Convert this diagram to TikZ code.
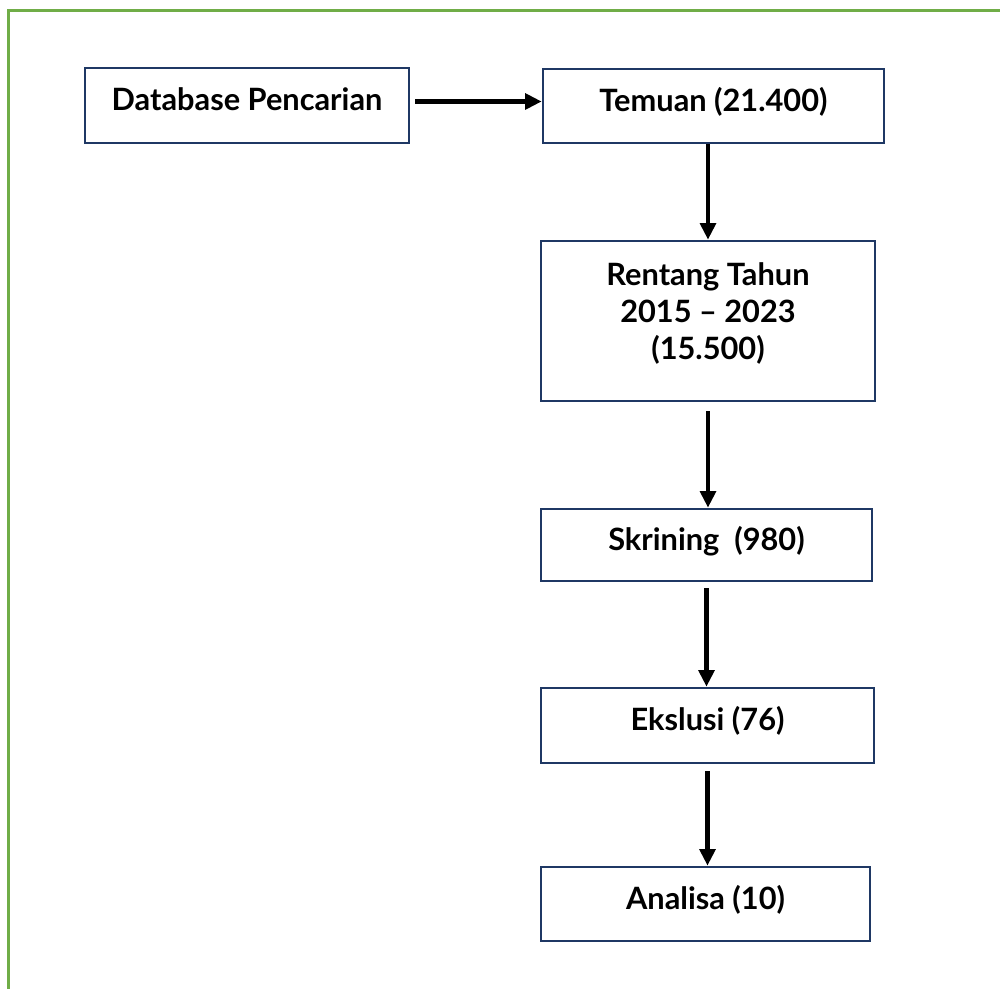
\documentclass[tikz,border=0pt]{standalone}
\usepackage{fontspec}
\setmainfont{Lato}
\usepackage{tikz}
\usetikzlibrary{positioning, arrows.meta, calc}
\definecolor{Cbdr}{RGB}{31,56,100}
\definecolor{Cfrm}{RGB}{112,173,71}
\tikzset{
  B/.style={
    draw=Cbdr, fill=white, line width=1.5pt,
    minimum width=6.65cm, minimum height=1.48cm,
    align=center, inner sep=4pt, text height=12.5pt, text depth=6.3pt,
    font=\fontsize{17.5pt}{21pt}\selectfont\bfseries
  },
  frm/.style={draw=Cfrm, line width=1.8pt},
  a/.style={-{Triangle[length=0.33cm,width=0.31cm]},
    line width=2.6pt, color=black}
}
\begin{document}
\begin{tikzpicture}
\useasboundingbox (0,0) rectangle (20,-19.78);

% ---------------------------------------------------------------
%  frame (top and left edge)
% ---------------------------------------------------------------
\draw[frm] (0.17,-19.78) -- (0.17,-0.21) -- (20,-0.21);

% ---------------------------------------------------------------
%  boxes
% ---------------------------------------------------------------
\node[B, minimum width=6.48cm, minimum height=1.5cm] (db)  at ( 4.94, -2.11) {Database Pencarian};
\node[B, minimum width=6.82cm] (tem) at (14.27, -2.12) {Temuan (21.400)};
\node[B, minimum width=6.68cm, minimum height=3.2cm,
      text height=54pt, text depth=10pt] (ren) at (14.16, -6.42)
  {Rentang Tahun\\2015 -- 2023\\(15.500)};
\node[B, minimum width=6.62cm, minimum height=1.44cm] (skr) at (14.13, -10.9) {Skrining~~(980)};
\node[B, minimum width=6.66cm, minimum height=1.5cm]  (eks) at (14.15, -14.51) {Ekslusi (76)};
\node[B, minimum width=6.58cm] (ana) at (14.11, -18.08) {Analisa (10)};

% ---------------------------------------------------------------
%  arrows
% ---------------------------------------------------------------
\draw[a, shorten <=0.1cm] ([yshift=0.08cm]db.east) -- ([yshift=0.08cm]db.east -| tem.west);
\draw[a] (ren.north |- tem.south) -- (ren.north);
\draw[a, shorten <=0.18cm] (ren.south) -- (ren.south |- skr.north);
\draw[a, shorten <=0.12cm] (skr.south) -- (skr.south |- eks.north);
\draw[a, shorten <=0.14cm] (eks.south) -- (eks.south |- ana.north);

\end{tikzpicture}
\end{document}
